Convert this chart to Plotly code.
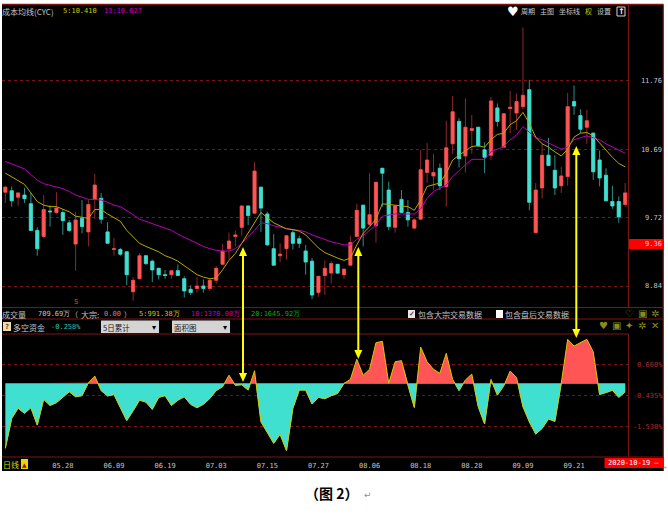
import plotly.graph_objects as go

W, H = 668, 514

open_ = [10.07,10.09,10.00,10.03,9.91,9.55,9.47,9.81,9.79,9.79,9.65,9.37,9.71,9.53,9.97,9.985,9.53,9.30,9.30,9.27,8.77,8.93,9.22,9.15,9.06,8.98,8.98,9.03,8.93,8.80,8.81,8.84,8.81,8.91,9.11,9.31,9.47,9.59,9.88,9.78,10.14,9.77,9.31,9.22,9.31,9.52,9.44,9.28,9.15,8.76,8.97,9.00,
         9.11,8.98,9.10,9.47,9.89,9.63,9.61,10.41,10.10,9.59,9.97,9.79,9.58,9.70,10.35,10.30,10.41,10.15,10.77,11.11,10.59,10.97,11.02,10.68,10.60,11.32,10.72,11.31,11.24,11.34,11.61,9.52,10.13,10.60,10.38,10.16,10.29,11.42,11.20,11.02,10.93,10.53,10.31,9.94,9.94,9.90]
high = [10.16,10.15,10.06,10.13,10.06,9.59,10.03,9.89,10.07,9.83,9.69,9.80,9.96,9.96,10.33,10.06,9.66,9.45,9.32,9.27,8.95,9.25,9.22,9.17,9.06,9.04,9.03,9.11,8.96,8.85,8.95,8.92,8.93,9.09,9.37,9.52,9.55,9.88,9.88,10.50,10.14,9.80,9.50,9.38,9.48,9.56,9.48,9.36,9.19,8.96,9.16,9.15,
        9.11,9.05,9.48,9.91,9.89,10.34,10.21,10.41,10.22,9.88,10.10,9.96,9.72,10.68,10.78,10.62,10.48,11.12,11.51,11.16,11.47,11.21,11.02,10.79,11.49,11.39,11.23,11.59,11.55,12.66,11.77,10.20,10.77,10.86,10.60,10.43,11.56,11.68,11.30,11.29,10.94,10.67,10.41,10.16,10.01,10.20]
low = [9.92,9.87,9.88,9.92,9.55,9.22,9.45,9.60,9.77,9.49,9.53,9.03,9.51,9.34,9.70,9.64,9.38,9.22,9.22,8.85,8.66,8.93,9.10,8.89,8.92,8.93,8.93,8.97,8.70,8.73,8.76,8.76,8.78,8.87,9.11,9.17,9.34,9.48,9.62,9.78,9.53,9.35,9.10,9.14,9.17,9.30,9.32,8.98,8.68,8.71,8.73,8.87,
       8.99,8.93,9.10,9.47,9.34,9.60,9.39,9.87,9.55,9.52,9.79,9.60,9.56,9.70,10.20,10.10,10.10,9.87,10.62,10.42,10.35,10.62,10.72,10.34,10.53,11.03,10.72,10.93,10.98,11.30,9.82,9.52,9.98,10.45,10.03,10.06,10.16,11.21,10.93,10.77,10.24,10.15,9.95,9.84,9.65,9.87]
close = [10.14,9.95,10.06,9.98,9.55,9.31,9.83,9.80,9.85,9.68,9.55,9.69,9.60,9.90,10.17,9.70,9.38,9.31,9.24,8.98,8.91,9.22,9.12,9.04,8.98,8.97,9.03,8.97,8.78,8.76,8.84,8.81,8.91,9.06,9.28,9.41,9.49,9.88,9.75,10.37,9.85,9.36,9.10,9.24,9.48,9.38,9.38,9.14,8.73,8.96,9.06,9.12,
         9.00,9.05,9.39,9.82,9.58,9.76,10.21,10.34,9.60,9.88,9.79,9.69,9.69,10.39,10.53,10.35,10.16,10.71,11.26,10.55,11.02,11.00,10.74,10.57,11.43,11.11,11.23,11.33,11.42,11.52,9.93,10.10,10.60,10.45,10.13,10.30,11.34,11.35,10.99,11.12,10.36,10.27,9.95,9.88,9.73,10.06]
ma5 = [10.34,10.29,10.24,10.18,10.06,9.94,9.89,9.87,9.87,9.84,9.80,9.74,9.72,9.71,9.83,9.83,9.77,9.72,9.67,9.55,9.46,9.38,9.34,9.31,9.27,9.22,9.19,9.15,9.09,9.03,8.98,8.95,8.93,8.94,9.04,9.16,9.25,9.38,9.51,9.66,9.79,9.72,9.65,9.61,9.57,9.56,9.54,9.49,9.41,9.32,9.26,9.22,
       9.19,9.16,9.19,9.36,9.51,9.60,9.70,9.91,9.90,9.89,9.88,9.87,9.82,9.96,10.15,10.18,10.20,10.34,10.53,10.60,10.67,10.73,10.74,10.72,10.83,10.91,10.93,11.06,11.12,11.25,11.08,10.87,10.77,10.72,10.65,10.59,10.69,10.87,10.93,10.94,10.89,10.78,10.67,10.57,10.48,10.43]
ma13 = [10.51,10.47,10.43,10.40,10.32,10.24,10.19,10.17,10.14,10.12,10.08,10.03,10.00,9.97,9.97,9.96,9.93,9.89,9.87,9.82,9.76,9.70,9.67,9.64,9.61,9.58,9.55,9.50,9.46,9.41,9.37,9.34,9.31,9.29,9.28,9.28,9.31,9.38,9.47,9.55,9.65,9.64,9.61,9.59,9.57,9.56,9.55,9.53,9.49,9.46,9.42,9.40,
        9.38,9.36,9.36,9.43,9.48,9.55,9.62,9.74,9.76,9.77,9.77,9.77,9.77,9.84,9.985,10.08,10.13,10.17,10.29,10.38,10.46,10.54,10.54,10.54,10.65,10.69,10.73,10.83,10.90,11.03,10.95,10.86,10.83,10.78,10.73,10.69,10.72,10.83,10.86,10.89,10.86,10.83,10.77,10.72,10.67,10.63]
fund_pct = [-2.32,-1.25,-0.89,-1.07,-0.87,-1.49,-0.57,-0.79,-0.69,-0.48,-0.30,-0.48,-0.44,0.02,0.26,-0.26,-0.45,-0.40,-0.89,-1.33,-0.98,-0.60,-0.67,-0.93,-0.50,-0.44,-0.79,-0.60,-0.48,-0.75,-0.87,-0.75,-0.54,-0.26,-0.12,0.29,-0.07,-0.05,-0.24,0.45,-1.37,-1.73,-2.14,-1.82,-2.40,-0.89,-0.24,-0.24,-0.74,-0.50,-0.55,-0.44,
            -0.36,0.00,0.14,0.86,0.29,0.50,1.45,1.50,0.00,0.77,0.81,-0.06,-0.86,1.29,0.77,0.50,0.36,1.07,0.14,-0.26,0.12,0.33,-0.83,-1.45,0.14,-0.42,-0.10,0.44,0.21,-0.83,-1.37,-1.81,-1.61,-1.27,-1.36,0.00,1.57,1.33,1.46,1.57,1.13,-0.40,-0.33,-0.25,-0.50,-0.30]
date_pos = [9, 17, 25, 33, 41, 49, 57, 65, 73, 81, 89]
date_labels = ["05.28", "06.09", "06.19", "07.03", "07.15", "07.27", "08.06", "08.18", "08.28", "09.09", "09.21"]
price_ticks = [11.76, 10.69, 9.72, 8.84]
price_tick_labels = ["11.76", "10.69", "\u00a09.72", "\u00a08.84"]
fund_ticks = [0.66, -0.435, -1.53]
fund_tick_labels = ["\u00a00.660%", "-0.435%", "-1.530%"]

RED, CYAN = "#ff5555", "#40e0d0"
RED_W, CYAN_W = "#8c2a2a", "#2b8f85"
GRID, FRAME = "#7d1212", "#7d1414"
GRAY = "#c4c4c4"
CJK, MONO = "Noto Sans CJK SC", "DejaVu Sans Mono"
idx = list(range(len(close)))
px = lambda v: v / W
py = lambda v: 1 - v / H

fig = go.Figure()
# wicks, then bright bodies over them
fig.add_trace(go.Candlestick(x=idx, open=open_, high=high, low=low, close=close, whiskerwidth=0,
    increasing=dict(line=dict(color=RED_W, width=1), fillcolor=RED_W),
    decreasing=dict(line=dict(color=CYAN_W, width=1), fillcolor=CYAN_W), xaxis="x", yaxis="y", showlegend=False))
fig.add_trace(go.Candlestick(x=idx, open=open_, close=close,
    high=[max(a, b) for a, b in zip(open_, close)], low=[min(a, b) for a, b in zip(open_, close)],
    increasing=dict(line=dict(color=RED, width=0.5), fillcolor=RED),
    decreasing=dict(line=dict(color=CYAN, width=0.5), fillcolor=CYAN), xaxis="x", yaxis="y", showlegend=False))
fig.add_trace(go.Scatter(x=idx, y=ma13, mode="lines", line=dict(color="#b800b8", width=1), xaxis="x", yaxis="y", showlegend=False))
fig.add_trace(go.Scatter(x=idx, y=ma5, mode="lines", line=dict(color="#b8a800", width=1), xaxis="x", yaxis="y", showlegend=False))

# area: split at zero crossings so each side fills up to the axis
ax, ay = [], []
for i, v in enumerate(fund_pct):
    if i and fund_pct[i - 1] * v < 0:
        ax.append(i - 1 + fund_pct[i - 1] / (fund_pct[i - 1] - v))
        ay.append(0)
    ax.append(i)
    ay.append(v)
fig.add_trace(go.Scatter(x=ax, y=[min(v, 0) for v in ay], mode="lines", fill="tozeroy", fillcolor=CYAN,
                         line=dict(width=0.8, color=CYAN), xaxis="x2", yaxis="y2", showlegend=False))
fig.add_trace(go.Scatter(x=ax, y=[max(v, 0) for v in ay], mode="lines", fill="tozeroy", fillcolor=RED,
                         line=dict(width=0), xaxis="x2", yaxis="y2", showlegend=False))
fig.add_trace(go.Scatter(x=idx, y=fund_pct, mode="lines", line=dict(color="#d8c800", width=1), xaxis="x2", yaxis="y2", showlegend=False))

shapes = [dict(type="rect", xref="paper", yref="paper", x0=px(2), x1=px(663.5), y0=py(471), y1=py(4.5),
               fillcolor="black", line_width=0, layer="below")]
def hline(y, x0=2, x1=663.5, w=1):
    shapes.append(dict(type="line", xref="paper", yref="paper", x0=px(x0), x1=px(x1), y0=py(y), y1=py(y), line=dict(color=FRAME, width=w)))
def vline(x, y0, y1):
    shapes.append(dict(type="line", xref="paper", yref="paper", x0=px(x), x1=px(x), y0=py(y0), y1=py(y1), line=dict(color=FRAME, width=1)))
hline(4.5, w=1.5)
hline(307.5); hline(319); hline(334, x1=628.5); hline(457)
vline(628.5, 5, 307.5); vline(628.5, 334, 457); vline(663.2, 5, 471)
# last-price and date flags
shapes.append(dict(type="rect", xref="paper", yref="paper", x0=px(629), x1=px(663), y0=py(249), y1=py(239), fillcolor="#ff0000", line_width=0))
shapes.append(dict(type="rect", xref="paper", yref="paper", x0=px(604.5), x1=px(663), y0=py(468), y1=py(458), fillcolor="#ff0000", line_width=0))

def arrow(x, top, bottom):
    shapes.append(dict(type="line", xref="paper", yref="paper", x0=px(x), x1=px(x), y0=py(top + 6), y1=py(bottom - 6), line=dict(color="#ffff00", width=2)))
    for tip, base in ((top, top + 9), (bottom, bottom - 9)):
        shapes.append(dict(type="path", xref="paper", yref="paper", line_width=0, fillcolor="#ffff00",
            path=f"M {px(x)} {py(tip)} L {px(x - 4)} {py(base)} L {px(x + 4)} {py(base)} Z"))
arrow(243, 247, 382)
arrow(358.3, 247, 359)
arrow(576.3, 146, 338)

# small controls
def box(x0, x1, y0, y1, fill, line="rgba(0,0,0,0)"):
    shapes.append(dict(type="rect", xref="paper", yref="paper", x0=px(x0), x1=px(x1), y0=py(y1), y1=py(y0), fillcolor=fill, line=dict(color=line, width=1)))
box(101, 159, 320.5, 333, "#d4d4d4")
box(172, 230, 320.5, 333, "#d4d4d4")
box(3, 11, 322, 331, "#e8dcb0")
box(21, 28, 459, 469, "#e8d800")
box(408, 415, 310, 318, "#e6e6e6")
box(496, 503, 310, 318, "#ffffff")
box(617, 625, 7, 16, "rgba(0,0,0,0)", "#d8d8d8")

anns = []
def T(x, y, s, color=GRAY, size=8, font=CJK, anchor="left", bold=False):
    if bold:
        s = f"<b>{s}</b>"
    anns.append(dict(xref="paper", yref="paper", x=px(x), y=py(y), text=s, showarrow=False, xanchor=anchor, yanchor="middle",
                     font=dict(color=color, size=size, family=font), borderpad=0, borderwidth=0))
T(2, 11, "成本均线(CYC)", size=8)
T(63, 11, "5:10.410", "#c8c800", 7, MONO)
T(104, 11, "13:10.627", "#c000c0", 7, MONO)
T(513, 11, "♥", "#ffffff", 13, "DejaVu Sans", "center")
T(521, 11, "周期", size=7); T(540, 11, "主图", size=7); T(559, 11, "坐标线", size=7)
T(585, 11, "权", "#c8c800", 7); T(597, 11, "设置", size=7)
T(621, 11, "↑", "#ffffff", 8, "DejaVu Sans", "center", True)
T(76, 302, "5", "#e02020", 7, MONO, "center", True)
T(2, 314, "成交量")
T(38, 314, "709.69万", size=7, font=MONO)
T(70.5, 314, "（", size=7); T(81, 314, "大宗:", size=8)
T(104, 314, "0.00", "#c08090", 7, MONO); T(124, 314, "）", size=7)
T(139, 314, "5:991.38万", "#c8c800", 7, MONO)
T(191, 314, "10:1370.00万", "#c000c0", 7, MONO)
T(251, 314, "20:1645.92万", "#00b000", 7, MONO)
T(411.5, 314, "✓", "#000000", 7, "DejaVu Sans", "center", True)
T(418, 314, "包含大宗交易数据", size=8)
T(505, 314, "包含盘后交易数据", size=8)
T(7, 326.5, "?", "#7a3000", 7, MONO, "center", True)
T(13, 327, "多空资金", size=8)
T(51, 327, "-0.258%", "#30c0b0", 7, MONO)
T(103, 327, "5日累计", "#202020", 7.5)
T(174, 327, "面积图", "#202020", 7.5)
T(154, 327, "▾", "#000000", 8, "DejaVu Sans", "center")
T(225, 327, "▾", "#000000", 8, "DejaVu Sans", "center")
T(3, 464, "日线", "#d8d800", 8)
T(24.5, 464, "▲", "#a01010", 6, "DejaVu Sans", "center")
T(653.5, 244, "9.36", "#f0d0d0", 7, MONO, "center")
T(633, 463, "2020-10-19 —", "#ffffff", 7, MONO, "center")
T(667, 467, "+", "#909090", 5, "DejaVu Sans", "right")
for x, y, g in [(629.5, 313, "♡"), (642, 313, "▣"), (655, 313, "✲"), (603, 325, "♥"), (616, 325, "▣"), (629, 325, "✦"), (642, 325, "✲"), (655, 325, "✕")]:
    T(x, y, g, "#8a8a20", 10, "DejaVu Sans", "center")
T(304.5, 493, "（图 2）", "#000000", 14, CJK, "left", True)
T(364, 495, "↵", "#909090", 9, "DejaVu Sans")

grid = dict(showgrid=True, gridcolor=GRID, griddash="dot", gridwidth=1, zeroline=False, showline=False, automargin=False)
fig.update_layout(
    width=W, height=H, margin=dict(l=0, r=0, t=0, b=0, autoexpand=False), paper_bgcolor="white", plot_bgcolor="rgba(0,0,0,0)",
    showlegend=False, shapes=shapes, annotations=anns,
    xaxis=dict(domain=[px(2), px(628.5)], range=[-0.52, 97.52], anchor="y", showticklabels=False, showgrid=False, zeroline=False, rangeslider=dict(visible=False), ticks="", automargin=False),
    yaxis=dict(domain=[py(307.5), py(5)], type="log", range=[0.9335, 1.1159], side="right", anchor="x", tickmode="array", tickvals=price_ticks,
               ticktext=price_tick_labels, tickfont=dict(color=GRAY, size=7, family=MONO), ticks="outside", ticklen=10, tickcolor="rgba(0,0,0,0)", **grid),
    xaxis2=dict(domain=[px(2), px(628.5)], range=[-0.52, 97.52], anchor="y2", tickmode="array", tickvals=date_pos, ticktext=date_labels,
                tickfont=dict(color=GRAY, size=7, family=MONO), ticks="outside", ticklen=2, tickcolor="rgba(0,0,0,0)", showgrid=False, zeroline=False, automargin=False),
    yaxis2=dict(domain=[py(457), py(334)], range=[-2.63, 1.761], side="right", anchor="x2", tickmode="array", tickvals=fund_ticks, ticktext=fund_tick_labels,
                tickfont=dict(color="#b02828", size=7, family=MONO), ticks="outside", ticklen=2, tickcolor="rgba(0,0,0,0)", **grid),
)
fig.write_html("out.html", config=dict(displayModeBar=False), post_script="document.body.style.margin='0';document.body.style.overflow='hidden';")
